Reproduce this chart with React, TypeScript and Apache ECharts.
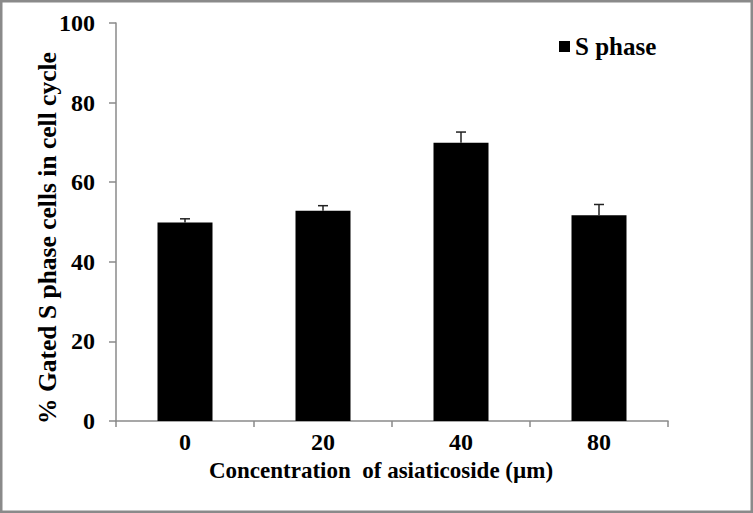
import React, { useEffect, useRef } from "react";
import * as echarts from "echarts";

const categories = ["0", "20", "40", "80"];
const sPhaseValues = [49.9, 52.8, 69.9, 51.7];
const sPhaseErrors = [0.9, 1.3, 2.7, 2.7];
const yTicks = { min: 0, max: 100, interval: 20 };
const yTitle = "% Gated S phase cells in cell cycle";
const xTitle = "Concentration  of asiaticoside (µm)";

const FONT = "'Liberation Serif', 'Times New Roman', serif";

export default function App() {
  const ref = useRef<HTMLDivElement>(null);
  useEffect(() => {
    document.body.style.margin = "0";
    const chart = echarts.init(ref.current!, null, { renderer: "svg" });
    const errorData = categories.map((c, i) => [i, sPhaseValues[i], sPhaseValues[i] + sPhaseErrors[i]]);
    chart.setOption({
      animation: false,
      backgroundColor: "#fff",
      grid: { left: 116, right: 85, top: 23, bottom: 92 },
      graphic: [
        {
          type: "rect",
          shape: { x: 1, y: 1, width: 751, height: 511 },
          style: { fill: "none", stroke: "#8a8a8a", lineWidth: 3 },
          silent: true,
        },
        {
          type: "text",
          x: 47,
          y: 238,
          rotation: Math.PI / 2,
          style: {
            text: yTitle,
            fontFamily: FONT,
            fontWeight: "bold",
            fontSize: 25.5,
            fill: "#000",
            align: "center",
            verticalAlign: "middle",
          },
          silent: true,
        },
      ],
      legend: {
        left: 554,
        top: 29,
        data: [{ name: "S phase", icon: "rect" }],
        itemWidth: 11,
        itemHeight: 11,
        itemGap: 5,
        textStyle: { fontFamily: FONT, fontWeight: "bold", fontSize: 25, color: "#000" },
      },
      xAxis: {
        type: "category",
        data: categories,
        name: xTitle,
        nameLocation: "middle",
        nameGap: 37,
        nameTextStyle: { fontFamily: FONT, fontWeight: "bold", fontSize: 23, color: "#000", padding: [0, 22, 0, 0] },
        axisLine: { lineStyle: { color: "#8a8a8a", width: 1.5 } },
        axisTick: { show: true, length: 6, lineStyle: { color: "#8a8a8a", width: 1.5 } },
        axisLabel: { fontFamily: FONT, fontWeight: "bold", fontSize: 24, color: "#000", margin: 9 },
      },
      yAxis: {
        type: "value",
        min: yTicks.min,
        max: yTicks.max,
        interval: yTicks.interval,
        axisLine: { show: true, lineStyle: { color: "#8a8a8a", width: 1.5 } },
        axisTick: { show: true, length: 7, lineStyle: { color: "#8a8a8a", width: 1.5 } },
        splitLine: { show: false },
        axisLabel: { fontFamily: FONT, fontWeight: "bold", fontSize: 24, color: "#000", margin: 21 },
      },
      series: [
        {
          name: "S phase",
          type: "bar",
          data: sPhaseValues,
          barWidth: 55,
          itemStyle: { color: "#000" },
        },
        {
          name: "error",
          type: "custom",
          data: errorData,
          z: 5,
          renderItem: (params: any, api: any) => {
            const x = api.value(0);
            const low = api.coord([x, api.value(1)]);
            const high = api.coord([x, api.value(2)]);
            const half = 5;
            const style = { stroke: "#222", lineWidth: 1.5, fill: "none" };
            return {
              type: "group",
              children: [
                { type: "line", shape: { x1: low[0], y1: low[1], x2: high[0], y2: high[1] }, style },
                { type: "line", shape: { x1: high[0] - half, y1: high[1], x2: high[0] + half, y2: high[1] }, style },
              ],
            };
          },
        },
      ],
    });
    return () => chart.dispose();
  }, []);
  return <div ref={ref} style={{ width: 753, height: 513 }} />;
}
